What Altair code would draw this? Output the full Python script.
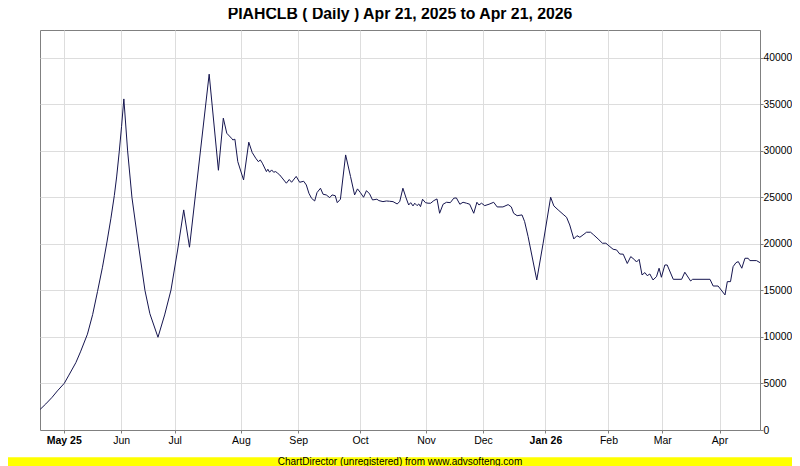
import altair as alt
import pandas as pd

# trading-day index (x) and value (y)
idx = [0.07, 2.0, 4.2, 6.0, 8.4, 10.0, 12.4, 14.0, 16.4, 18.2, 19.9, 21.6, 23.1,
       24.5, 25.7, 26.5, 27.4, 28.2, 29.0,
       30.3, 31.8, 34.0, 36.3, 38.0, 40.8, 43.1, 45.3, 47.6, 49.7, 51.7, 58.5,
       61.7, 63.4, 64.6, 66.2, 66.7, 67.4, 68.4, 70.4, 72.2, 73.4, 74.6, 75.5,
       76.2, 76.9, 78.3, 78.8, 79.4, 80.1, 80.8, 81.5, 82.2, 82.9, 85.2, 86.2,
       87.0, 88.6, 89.8, 91.2, 92.1, 93.0, 93.9, 95.0, 95.8, 97.0, 97.9, 99.0,
       100.2, 101.0, 102.1, 102.8, 103.9, 105.7, 107.4, 108.8, 109.8, 110.8,
       111.9, 112.9, 114.0, 115.0, 116.5, 117.2, 118.6, 119.8, 120.9, 122.1,
       123.5, 124.4, 125.5, 126.6, 127.5, 128.2, 129.0, 129.6, 130.4, 131.0,
       131.6, 132.3, 133.3, 134.2, 135.1, 136.2, 137.3, 138.2, 139.4, 140.6,
       141.9, 143.1, 144.0, 145.2, 146.3, 147.5, 148.6, 150.0, 151.1, 151.8,
       152.7, 153.8, 155.3, 156.9, 158.1, 160.1, 161.9, 163.0, 163.8, 165.0,
       166.7, 167.6, 168.8, 171.8, 174.0, 176.6, 177.7, 179.2, 180.9, 182.1,
       183.2, 184.6, 185.7, 186.7, 187.8, 189.0, 190.4, 191.5, 193.0, 194.5,
       195.7, 197.1, 198.2, 199.4, 200.5, 201.7, 203.1, 204.3, 205.7, 206.3,
       207.2, 208.2, 209.2, 210.0, 210.9, 212.0, 213.2, 214.1, 214.9, 216.1,
       216.9, 219.0, 221.9, 223.0, 225.0, 225.7, 231.7, 232.8, 234.5, 236.9,
       237.7, 238.8, 239.7, 240.7, 241.5, 242.7, 243.8, 244.9, 245.5, 247.8,
       249.0]
val = [2220, 2800, 3520, 4200, 5020, 5900, 7240, 8400, 10300, 12400, 14900,
       17500, 20100, 22700, 25200, 27200, 29900, 32600, 35590,
       30000, 25000, 20000, 15000, 12500, 9970, 12370, 15050,
       19350, 23660, 19650, 38250, 27920, 33520, 31900, 31370, 31180, 31260,
       28850, 26880, 30940, 29820, 29220, 28850, 29030, 28680, 27780, 28030,
       27710, 27960, 27710, 27780, 27600, 27420, 26530, 26930, 26630, 27260,
       26630, 26740, 26340, 25450, 24910, 24620, 25520, 25990, 25340, 25270,
       24980, 25270, 25190, 24440, 24810, 29570, 27240, 25270, 25920, 25520,
       25020, 25730, 25380, 24730, 24810, 24660, 24550, 24620, 24590, 24550,
       24300, 24550, 25990, 24950, 24190, 24440, 24090, 24380, 24120, 24300,
       24010, 24810, 24440, 24380, 24380, 24660, 24840, 23300, 24270, 24480,
       24440, 24920, 24950, 24270, 24480, 24380, 24270, 23300, 24480, 24190,
       24380, 24120, 24270, 24480, 23980, 23980, 24230, 23980, 23300, 23040,
       23120, 22400, 20790, 16130, 20080, 25020, 24090, 23660, 23190, 22870,
       22040, 20540, 20890, 20720, 20970, 21260, 21260, 20970, 20540, 20080,
       20080, 19710, 19430, 19360, 18920, 18900, 17900, 18640, 18280, 18060,
       18350, 16670, 16920, 16590, 16770, 16130, 16480, 17390, 16420, 17740,
       17740, 16200, 16200, 16960, 16020, 16200, 16200, 15480, 15480, 14520,
       15950, 15950, 17560, 17990, 18100, 17390, 18460, 18460, 18210, 18210,
       17990]

month_pos = [8.2, 28.1, 46.6, 69.5, 89.3, 110.7, 133.5, 153.2, 174.8, 196.6, 215.2, 235.0]
month_lbl = ["May 25", "Jun", "Jul", "Aug", "Sep", "Oct", "Nov", "Dec",
             "Jan 26", "Feb", "Mar", "Apr"]
y_ticks = [0, 5000, 10000, 15000, 20000, 25000, 30000, 35000, 40000]

title_text = "PIAHCLB ( Daily ) Apr 21, 2025 to Apr 21, 2026"
footer_text = "ChartDirector (unregistered) from www.advsofteng.com"

FONT = "Liberation Sans"
df = pd.DataFrame({"i": idx, "v": val})

pos_arr = "[" + ",".join(str(p) for p in month_pos) + "]"
lbl_arr = "[" + ",".join("'" + s + "'" for s in month_lbl) + "]"
label_expr = f"{lbl_arr}[indexof({pos_arr}, datum.value)]"
bold_test = " || ".join(f"datum.value == {p}" for p, s in zip(month_pos, month_lbl) if " " in s)

x_axis = alt.Axis(values=month_pos, labelExpr=label_expr, title=None, grid=True,
                  gridColor="#dddddd", tickSize=3, tickColor="#808080",
                  domainColor="#808080", labelFont=FONT, labelFontSize=10.5,
                  labelColor="#000000", labelPadding=2,
                  labelFontWeight={"condition": {"test": bold_test, "value": "bold"},
                                   "value": "normal"})
y_axis = alt.Axis(orient="right", values=y_ticks, format="d", title=None, grid=True,
                  gridColor="#dddddd", tickSize=3, tickColor="#808080",
                  domainColor="#808080", labelFont=FONT, labelFontSize=10.3,
                  labelColor="#000000", labelPadding=0)

line = alt.Chart(df).mark_line(color="#15154f", strokeWidth=1).encode(
    x=alt.X("i:Q", scale=alt.Scale(domain=[0, 249], nice=False, zero=False), axis=x_axis),
    y=alt.Y("v:Q", scale=alt.Scale(domain=[0, 43000], nice=False), axis=y_axis),
)

tdf = pd.DataFrame({"t": [title_text]})
ttl = alt.Chart(tdf).mark_text(font=FONT, fontSize=15.8, fontWeight="bold",
                               color="#000000", align="center",
                               baseline="alphabetic").encode(
    x=alt.value(360), y=alt.value(-11), text="t:N")

fdf = pd.DataFrame({"t": [footer_text]})
band = alt.Chart(fdf).mark_rect(color="#ffff00").encode(
    x=alt.value(-32), x2=alt.value(760), y=alt.value(427.3), y2=alt.value(436))
ftxt = alt.Chart(fdf).mark_text(font=FONT, fontSize=10, color="#000000",
                                align="center", baseline="middle").encode(
    x=alt.value(360), y=alt.value(431.8), text="t:N")

chart = alt.layer(line, ttl, band, ftxt).properties(
    width=720, height=400,
    padding={"left": 32, "top": 22, "right": 32, "bottom": 36},
    autosize=alt.AutoSizeParams(type="none"),
    background="#ffffff",
).configure_view(stroke="#808080", strokeWidth=1)

chart.save("out.html", embed_options={"renderer": "svg", "actions": False})
